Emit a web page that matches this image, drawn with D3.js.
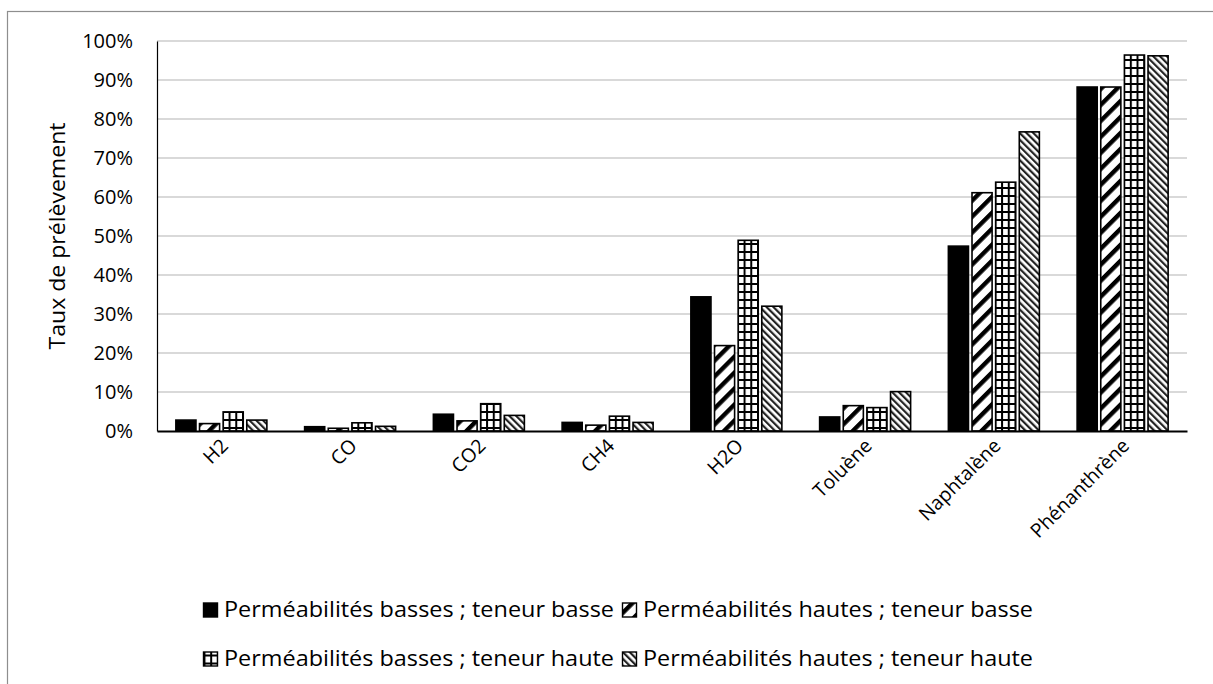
<!DOCTYPE html>
<html><head><meta charset="utf-8">
<script src="https://cdn.jsdelivr.net/npm/d3@7"></script>
<style>
html,body{margin:0;padding:0;background:#fff;}
svg{display:block;font-family:"Open Sans",sans-serif;}
</style></head>
<body>
<svg id="chart" width="1213" height="684"></svg>
<script>
const categories = ["H2","CO","CO2","CH4","H2O","Toluène","Naphtalène","Phénanthrène"];
const seriesNames = [
  "Perméabilités basses ; teneur basse",
  "Perméabilités hautes ; teneur basse",
  "Perméabilités basses ; teneur haute",
  "Perméabilités hautes ; teneur haute"
];
const s1 = [0.028,0.011,0.043,0.022,0.344,0.036,0.474,0.882];
const s2 = [0.019,0.007,0.026,0.015,0.219,0.065,0.611,0.882];
const s3 = [0.049,0.021,0.070,0.038,0.489,0.060,0.638,0.964];
const s4 = [0.028,0.012,0.040,0.022,0.320,0.101,0.767,0.962];
const seriesValues = [s1,s2,s3,s4];
const yTicks = [0,0.1,0.2,0.3,0.4,0.5,0.6,0.7,0.8,0.9,1.0];

(function(){
const svg = d3.select("#chart");
const mLeft=157, mRight=1187, mTop=41, mBottom=431;
const FONT = "'Open Sans', sans-serif";

// outer frame
svg.append("rect").attr("x",7.5).attr("y",11.5).attr("width",1400).attr("height",1000)
  .attr("fill","none").attr("stroke","#8e8e8e").attr("stroke-width",1.2);

// patterns
const defs = svg.append("defs");
const p2 = defs.append("pattern").attr("id","pat2").attr("patternUnits","userSpaceOnUse")
  .attr("width",11.3).attr("height",11.3).attr("patternTransform","rotate(45)");
p2.append("rect").attr("width",11.3).attr("height",11.3).attr("fill","#fff");
p2.append("rect").attr("x",0).attr("width",4.4).attr("height",11.3).attr("fill","#000");

const p3 = defs.append("pattern").attr("id","pat3").attr("patternUnits","userSpaceOnUse")
  .attr("width",6.7).attr("height",8).attr("x",0.5).attr("y",3);
p3.append("rect").attr("width",6.7).attr("height",8).attr("fill","#fff");
p3.append("rect").attr("x",0).attr("y",0).attr("width",2).attr("height",8).attr("fill","#000");
p3.append("rect").attr("x",0).attr("y",0).attr("width",6.7).attr("height",2).attr("fill","#000");

const p4 = defs.append("pattern").attr("id","pat4").attr("patternUnits","userSpaceOnUse")
  .attr("width",4.8).attr("height",4.8).attr("patternTransform","rotate(-45)");
p4.append("rect").attr("width",4.8).attr("height",4.8).attr("fill","#fff");
p4.append("rect").attr("x",0).attr("width",2.2).attr("height",4.8).attr("fill","#222");

const fills = ["#000","url(#pat2)","url(#pat3)","url(#pat4)"];

const x0 = d3.scaleBand().domain(categories).range([mLeft,mRight]).padding(0);
const x1 = d3.scaleBand().domain(d3.range(4)).range([-45.5,45.5]).paddingInner(0.15).paddingOuter(0);
const y = d3.scaleLinear().domain([0,1]).range([mBottom,mTop]);

// gridlines
svg.append("g").selectAll("line").data(yTicks.slice(1)).join("line")
  .attr("x1",mLeft).attr("x2",mRight).attr("y1",d=>y(d)).attr("y2",d=>y(d))
  .attr("stroke","#d9d9d9").attr("stroke-width",2);

// y axis
const yAxis = svg.append("g").attr("transform",`translate(${mLeft},0)`)
  .call(d3.axisLeft(y).tickValues(yTicks).tickFormat(d3.format(".0%")).tickSize(0).tickPadding(24));
yAxis.select(".domain").attr("stroke","#000").attr("stroke-width",1.2);
yAxis.selectAll("text").attr("font-size",20).attr("fill","#000").attr("font-family",FONT);

// bars
const groups = svg.append("g").selectAll("g").data(categories).join("g")
  .attr("transform",d=>`translate(${x0(d)+x0.bandwidth()/2},0)`);
groups.selectAll("rect").data((c,i)=>seriesValues.map((s,k)=>({k,v:s[i]}))).join("rect")
  .attr("x",d=>x1(d.k)).attr("width",x1.bandwidth())
  .attr("y",d=>y(d.v)).attr("height",d=>y(0)-y(d.v))
  .attr("fill",d=>fills[d.k]).attr("stroke","#000").attr("stroke-width",1.6);

// x axis
const xAxis = svg.append("g").attr("transform",`translate(0,${mBottom})`)
  .call(d3.axisBottom(x0).tickSize(0).tickPadding(0));
xAxis.select(".domain").attr("stroke","#000").attr("stroke-width",2);
xAxis.selectAll("text").attr("font-size",19.5).attr("fill","#000")
  .attr("font-family",FONT)
  .attr("text-anchor","end").attr("dy",null)
  .attr("transform","translate(8,16) rotate(-45)");

// y title
svg.append("text").attr("transform",`translate(65,${(mTop+mBottom)/2}) rotate(-90)`)
  .attr("text-anchor","middle").attr("font-size",21).attr("fill","#000")
  .attr("font-family",FONT)
  .attr("textLength",227).attr("lengthAdjust","spacingAndGlyphs")
  .text("Taux de prélèvement");

// legend
const legendPos = [[203,610.5],[622,610.5],[203,659.5],[622,659.5]];
const lg = svg.append("g").selectAll("g").data(seriesNames).join("g")
  .attr("transform",(d,i)=>`translate(${legendPos[i][0]},${legendPos[i][1]})`);
lg.append("rect").attr("x",0.5).attr("y",-7.5).attr("width",14).attr("height",14)
  .attr("fill",(d,i)=>fills[i]).attr("stroke","#000").attr("stroke-width",1.4);
lg.append("text").attr("x",21).attr("y",6.5).attr("font-size",21).attr("fill","#000")
  .attr("font-family",FONT)
  .attr("textLength",390).attr("lengthAdjust","spacingAndGlyphs")
  .text(d=>d);
})();
</script>
</body></html>
